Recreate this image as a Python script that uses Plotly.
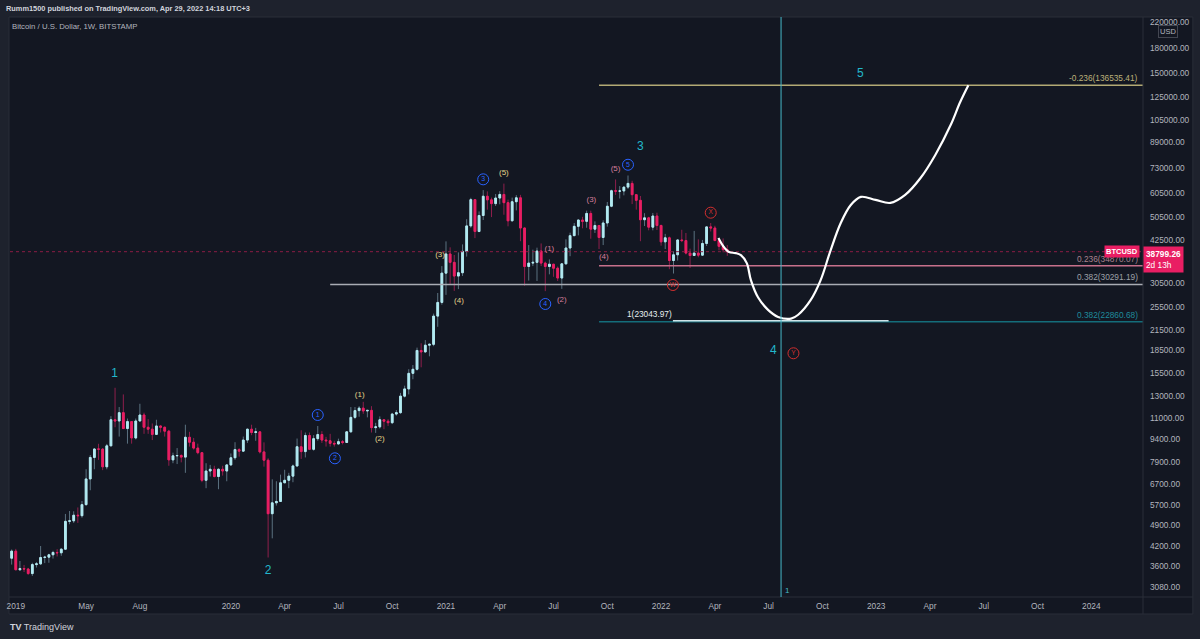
import numpy as np
import pandas as pd
import plotly.graph_objects as go

# ---------------- data (weekly BTC/USD, Bitstamp) ----------------
first_week = "2018-12-31"
week_open = [
    3830,
    4040, 3510, 3540, 3530, 3410, 3650, 3670, 3850, 3860, 3930, 4000, 3990, 4100, 5060, 5080, 5300, 5280, 5740,
    6970, 8200, 8740, 8730, 7640, 8950, 10900, 10800, 11500, 10200, 10750, 9500, 10800, 11300, 10300, 10150,
    9760, 10400, 10300, 10000, 8050, 8300, 8320, 8220, 9550, 9200, 8800, 8500, 6900, 7400, 7500, 7100, 7500, 7400,
    7750, 8180, 8700, 8600, 9350, 10150, 9900, 9950, 8550, 8030, 5360, 5820, 5880, 6770, 6900, 7120, 7690,
    8890, 8570, 9680, 8720, 9450, 9750, 9350, 9300, 9120, 9080, 9240, 9180, 9950, 11100, 11680, 11900, 11650,
    11700, 10270, 10330, 10900, 10780, 10660, 11380, 11500, 13030, 13760, 15480, 15960, 18400, 18200, 19150,
    19270, 23850, 26450,
    33000, 38150, 35800, 32280, 33100, 38900, 47150, 57500, 45200, 51000, 59000, 57400, 55800, 58200, 59800,
    56200, 49000, 56600, 58300, 46400, 34700, 35600, 35800, 39000, 35600, 34700, 35300, 34250, 31800, 35400,
    39900, 43800, 47000, 49300, 48800, 51800, 46000, 47300, 43200, 48200, 54700, 61500, 61300, 61400, 63200,
    65000, 59700, 57200, 49400, 50100, 46700, 50800,
    47300, 41800, 43100, 36300, 37900, 42400, 42200, 38400, 37700, 38400, 37800, 41300, 46800, 46400, 42200,
    40400, 39400,
]
week_high = [
    4090,
    4110, 3750, 3640, 3560, 3700, 3720, 4200, 3900, 3960, 4050, 4100, 4130, 5350, 5470, 5460, 5620, 5900, 7500,
    8350, 8800, 9090, 8800, 9080, 11200, 13880, 12000, 13200, 11000, 10750, 11000, 12300, 11500, 10950, 10600,
    10900, 10450, 10350, 10100, 8500, 8800, 8400, 10500, 9950, 9500, 9100, 8520, 7850, 7750, 7700, 7550, 7700, 7800,
    8450, 9200, 8800, 9600, 10200, 10500, 10250, 9970, 9190, 8150, 6950, 6850, 7200, 7470, 7300, 7770, 9460,
    10070, 9900, 9900, 9700, 10400, 10000, 9580, 9800, 9300, 9450, 9350, 9970, 12000, 12000, 12080, 12480,
    11720, 12080, 10650, 11180, 10950, 10950, 11480, 11730, 13350, 14100, 15970, 16480, 18800, 19420, 19900,
    19400, 24300, 28400, 34800,
    41950, 40100, 37850, 38600, 41000, 49600, 58300, 57600, 52600, 61800, 61200, 58400, 60000, 61300, 64900,
    57500, 58400, 59500, 59600, 46600, 40800, 39400, 40000, 41300, 36000, 36600, 35400, 34700, 35500, 42600,
    44800, 48200, 49400, 50500, 52900, 52900, 48800, 47400, 49200, 56500, 62000, 67000, 63700, 63400, 69000,
    66300, 59900, 59100, 51900, 50500, 52000, 52100,
    47600, 44400, 43500, 38900, 42600, 45800, 44700, 39700, 45400, 42600, 42400, 47000, 48200, 47200, 42400,
    42900, 40800,
]
week_low = [
    3650,
    3500, 3480, 3450, 3380, 3350, 3570, 3640, 3690, 3700, 3820, 3880, 3900, 4090, 4950, 5000, 5000, 5200, 5700,
    6400, 7500, 8050, 7450, 7500, 8950, 10300, 9600, 11000, 9100, 9100, 9400, 10800, 9800, 9800, 9350,
    9730, 9900, 9600, 7700, 7850, 7800, 7900, 7300, 8900, 8700, 8400, 6800, 6500, 7100, 7050, 6450, 7150, 6850,
    7700, 8050, 8250, 8550, 9150, 9700, 9300, 8450, 7650, 3850, 4450, 5700, 5860, 6760, 6500, 6800, 7650,
    8110, 8200, 8700, 8630, 9300, 9150, 8900, 8900, 8900, 9050, 9050, 9150, 9900, 10950, 11150, 11400,
    11100, 9900, 9870, 10200, 10150, 10400, 10550, 11240, 11400, 12900, 13200, 14800, 15800, 16200, 18100,
    17600, 19000, 22000, 26000,
    28000, 30420, 28850, 29250, 32300, 37400, 46500, 43000, 44950, 49300, 53300, 50400, 54800, 55500, 51300,
    47000, 48800, 53000, 42000, 30000, 31200, 34800, 31100, 34800, 28800, 32700, 32100, 31100, 29300, 35200,
    37500, 43700, 43900, 46300, 46500, 42800, 44700, 39600, 40800, 46900, 54300, 59600, 58000, 59400, 62300,
    55600, 53300, 42000, 47100, 45600, 45600, 45700,
    40600, 39600, 34000, 32900, 36300, 41700, 38000, 34300, 37600, 37200, 37600, 40500, 45200, 42100, 39200,
    38600, 37600,
]
week_close = [
    4040,
    3510, 3540, 3530, 3410, 3650, 3670, 3850, 3860, 3930, 4000, 3990, 4100, 5060, 5080, 5300, 5280, 5740, 6970,
    8200, 8740, 8730, 7640, 8950, 10900, 10800, 11500, 10200, 10750, 9500, 10800, 11300, 10300, 10150, 9760,
    10400, 10300, 10000, 8050, 8300, 8320, 8220, 9550, 9200, 8800, 8500, 6900, 7400, 7500, 7100, 7500, 7400, 7750,
    8180, 8700, 8600, 9350, 10150, 9900, 9950, 8550, 8030, 5360, 5820, 5880, 6770, 6900, 7120, 7690, 8890,
    8570, 9680, 8720, 9450, 9750, 9350, 9300, 9120, 9080, 9240, 9180, 9950, 11100, 11680, 11900, 11650,
    11700, 10270, 10330, 10900, 10780, 10660, 11380, 11500, 13030, 13760, 15480, 15960, 18400, 18200, 19150,
    19270, 23850, 26450, 33000,
    38150, 35800, 32280, 33100, 38900, 47150, 57500, 45200, 51000, 59000, 57400, 55800, 58200, 59800, 56200,
    49000, 56600, 58300, 46400, 34700, 35600, 35800, 39000, 35600, 34700, 35300, 34250, 31800, 35400, 39900,
    43800, 47000, 49300, 48800, 51800, 46000, 47300, 43200, 48200, 54700, 61500, 61300, 61400, 63200, 65000,
    59700, 57200, 49400, 50100, 46700, 50800, 47300,
    41800, 43100, 36300, 37900, 42400, 42200, 38400, 37700, 38400, 37800, 41300, 46800, 46400, 42200, 40400,
    39400, 38799.26,
]

# projected path (white curve)
proj_dates = ["2022-04-10", "2022-04-18", "2022-04-28", "2022-05-09", "2022-05-18", "2022-05-28",
              "2022-06-04", "2022-06-16", "2022-07-03", "2022-07-20", "2022-08-11", "2022-08-23",
              "2022-09-13", "2022-09-30", "2022-10-17", "2022-11-03", "2022-11-20", "2022-12-07",
              "2023-01-01", "2023-01-26", "2023-02-20", "2023-03-18", "2023-04-12", "2023-05-08",
              "2023-05-24", "2023-06-07"]
proj_prices = [43000, 40500, 38700, 38400, 37800, 35600, 31300, 27500, 25000, 23700, 23400, 24100,
               26900, 31300, 39300, 48200, 55200, 58700, 57400, 56100, 59600, 67700, 80600, 101000,
               120000, 136500]

# fibonacci levels
fib_prices = [136535.41, 34870.07, 30291.19, 22860.68]
fib_labels = ["-0.236(136535.41)", "0.236(34870.07)", "0.382(30291.19)", "0.382(22860.68)"]
fib_starts = ["2021-09-20", "2021-09-20", "2020-06-22", "2021-09-20"]
ext_price = 23043.97
ext_label = "1(23043.97)"
ext_start, ext_end, ext_label_date = "2022-01-23", "2023-01-23", "2021-12-14"

last_price = 38799.26
cycle_date = "2022-07-25"

# wave labels
wave_text = ["1", "2", "3", "4", "5"]
wave_dates = ["2019-06-23", "2020-03-09", "2021-11-29", "2022-07-12", "2022-12-06"]
wave_prices = [15400, 3485, 85770, 18370, 148500]

minor_text = ["1", "2", "3", "4", "5"]
minor_dates = ["2020-06-01", "2020-06-30", "2021-03-08", "2021-06-21", "2021-11-08"]
minor_prices = [11300, 8147, 67030, 26140, 74840]

suby_text = ["(1)", "(2)", "(3)", "(4)", "(5)"]
suby_dates = ["2020-08-11", "2020-09-14", "2020-12-25", "2021-01-26", "2021-04-12"]
suby_prices = [13140, 9405, 37840, 26730, 70150]

subp_text = ["(1)", "(2)", "(3)", "(4)", "(5)"]
subp_dates = ["2021-06-28", "2021-07-19", "2021-09-07", "2021-09-28", "2021-10-18"]
subp_prices = [39590, 26880, 57210, 37350, 72290]

wxy_text = ["W", "X", "Y"]
wxy_dates = ["2022-01-23", "2022-03-28", "2022-08-15"]
wxy_prices = [30170, 52100, 18010]

x_tick_dates = ["2019-01-07", "2019-05-06", "2019-08-05", "2020-01-06", "2020-04-06", "2020-07-06",
                "2020-10-05", "2021-01-04", "2021-04-05", "2021-07-05", "2021-10-04", "2022-01-03",
                "2022-04-04", "2022-07-04", "2022-10-03", "2023-01-02", "2023-04-03", "2023-07-03",
                "2023-10-02", "2024-01-01"]
x_tick_text = ["2019", "May", "Aug", "2020", "Apr", "Jul", "Oct", "2021", "Apr", "Jul", "Oct", "2022",
               "Apr", "Jul", "Oct", "2023", "Apr", "Jul", "Oct", "2024"]
price_ticks = [3080, 3600, 4200, 4900, 5700, 6700, 7900, 9400, 11000, 13000, 15500, 18500, 21500,
               25500, 30500, 42500, 50500, 60500, 73000, 89000, 105000, 125000, 150000, 180000, 220000]

x_range = ["2018-12-28 05:00", "2024-03-28 12:00"]
y_range = [2857, 228500]

# ---------------- styling ----------------
BG = "#131722"
PAPER = "#1e222d"
BORDER = "#2a2e39"
TXT = "#b2b5be"
UP = "#b2ebf2"
DOWN = "#e91e63"
UP_WICK = "#5b7280"
DOWN_WICK = "#8e1f4c"
CYAN = "#22b8cc"
FONT = "Liberation Sans"

n = len(week_close)
assert len(week_open) == len(week_high) == len(week_low) == n
weeks = pd.date_range(first_week, periods=n, freq="7D")
body_hi = np.maximum(week_open, week_close)
body_lo = np.minimum(week_open, week_close)

fig = go.Figure()

# wicks
fig.add_trace(go.Candlestick(
    x=weeks, open=week_open, high=week_high, low=week_low, close=week_close,
    increasing=dict(line=dict(color=UP_WICK, width=1), fillcolor=UP_WICK),
    decreasing=dict(line=dict(color=DOWN_WICK, width=1), fillcolor=DOWN_WICK),
    hoverinfo="skip"))
# bodies
fig.add_trace(go.Candlestick(
    x=weeks, open=week_open, high=body_hi, low=body_lo, close=week_close,
    increasing=dict(line=dict(color=UP, width=1), fillcolor=UP),
    decreasing=dict(line=dict(color=DOWN, width=1), fillcolor=DOWN),
    hoverinfo="skip"))

x_end = x_range[1]
# current price dotted line
fig.add_trace(go.Scatter(x=[x_range[0], x_end], y=[last_price, last_price], mode="lines",
                         line=dict(color="#8b1d44", width=1, dash="dot"), hoverinfo="skip"))

fib_colors = ["#b3aa74", "#c7708b", "#a9acb4", "#146d7a"]
fib_label_colors = ["#bdb27a", "#a9838f", "#9ea1a8", "#1f8b9b"]
for p, s, c in zip(fib_prices, fib_starts, fib_colors):
    fig.add_trace(go.Scatter(x=[s, x_end], y=[p, p], mode="lines", line=dict(color=c, width=1.5),
                             hoverinfo="skip"))
fig.add_trace(go.Scatter(x=[ext_start, ext_end], y=[ext_price, ext_price], mode="lines",
                         line=dict(color="#cfe3e8", width=1.5), hoverinfo="skip"))

# projection curve
fig.add_trace(go.Scatter(x=proj_dates, y=proj_prices, mode="lines",
                         line=dict(color="#ffffff", width=2.2, shape="spline", smoothing=1.0),
                         hoverinfo="skip"))

# wave labels
fig.add_trace(go.Scatter(x=wave_dates, y=wave_prices, mode="text", text=wave_text,
                         textfont=dict(family=FONT, size=12, color=CYAN), hoverinfo="skip"))
fig.add_trace(go.Scatter(x=minor_dates, y=minor_prices, mode="markers+text", text=minor_text,
                         textposition="middle center",
                         marker=dict(symbol="circle-open", size=11, color="#2962ff", line=dict(width=1)),
                         textfont=dict(family=FONT, size=7, color="#2962ff"), hoverinfo="skip"))
fig.add_trace(go.Scatter(x=suby_dates, y=suby_prices, mode="text", text=suby_text,
                         textfont=dict(family=FONT, size=8, color="#e3d48a"), hoverinfo="skip"))
fig.add_trace(go.Scatter(x=subp_dates, y=subp_prices, mode="text", text=subp_text,
                         textfont=dict(family=FONT, size=8, color="#d67f9c"), hoverinfo="skip"))
fig.add_trace(go.Scatter(x=wxy_dates, y=wxy_prices, mode="markers+text", text=wxy_text,
                         textposition="middle center",
                         marker=dict(symbol="circle-open", size=11, color="#d32f2f", line=dict(width=1)),
                         textfont=dict(family=FONT, size=6.5, color="#d32f2f"), hoverinfo="skip"))

# panel frame and separators
fig.add_shape(type="rect", xref="paper", yref="paper", x0=-0.0009, x1=1.0440, y0=-0.0293, y1=1.0,
              fillcolor=BG, line=dict(color=BORDER, width=1), layer="below")
fig.add_shape(type="line", xref="paper", yref="paper", x0=-0.0009, x1=1.0440, y0=0, y1=0,
              line=dict(color=BORDER, width=1))
fig.add_shape(type="line", xref="paper", yref="paper", x0=1, x1=1, y0=-0.0293, y1=1.0,
              line=dict(color=BORDER, width=1))
# vertical cycle line
fig.add_shape(type="line", xref="x", yref="paper", x0=cycle_date, x1=cycle_date, y0=0, y1=1,
              line=dict(color="#45b8c9", width=1))
fig.add_annotation(xref="x", yref="paper", x=cycle_date, y=0, xshift=6, yanchor="bottom", yshift=0,
                   text="1", showarrow=False, font=dict(family=FONT, size=8, color="#45b8c9"))

# fib labels
for p, t, c in zip(fib_prices, fib_labels, fib_label_colors):
    fig.add_annotation(xref="paper", x=1, xanchor="right", xshift=-3, yref="y", y=np.log10(p),
                       yanchor="bottom", text=t, showarrow=False, font=dict(family=FONT, size=8.3, color=c))
fig.add_annotation(xref="x", x=ext_label_date, xanchor="center", yref="y", y=np.log10(ext_price),
                   yanchor="bottom", text=ext_label, showarrow=False,
                   font=dict(family=FONT, size=8.3, color="#e6eef0"))

# current price labels
fig.add_annotation(xref="paper", x=1, xanchor="right", xshift=-3, yref="y", y=np.log10(last_price),
                   yanchor="middle", text="<b>BTCUSD</b>", showarrow=False, bgcolor=DOWN, borderpad=1,
                   font=dict(family=FONT, size=7.5, color="#ffffff"))
fig.add_annotation(xref="paper", x=1, xanchor="left", xshift=0, yref="y", y=np.log10(last_price),
                   yanchor="top", yshift=6, align="left", text="<b>38799.26</b><br>2d 13h",
                   showarrow=False, bgcolor=DOWN, borderpad=2,
                   font=dict(family=FONT, size=8.3, color="#ffffff"))
# USD badge
fig.add_annotation(xref="paper", x=1.0225, xanchor="center", yref="paper", y=0.9745, yanchor="middle",
                   text="USD", showarrow=False,
                   bgcolor=BG, bordercolor="#434651", borderwidth=1, borderpad=1,
                   font=dict(family=FONT, size=7.5, color=TXT))

# header texts
fig.add_annotation(xref="paper", yref="paper", x=-0.0053, y=1.0138, xanchor="left", yanchor="middle",
                   text="<b>Rumm1500 published on TradingView.com, Apr 29, 2022 14:18 UTC+3</b>",
                   showarrow=False, font=dict(family=FONT, size=7.4, color="#d1d4dc"))
fig.add_annotation(xref="paper", yref="paper", x=0.0, y=0.984, xanchor="left", yanchor="middle",
                   text="Bitcoin / U.S. Dollar, 1W, BITSTAMP", showarrow=False,
                   font=dict(family=FONT, size=7.8, color=TXT))
fig.add_annotation(xref="paper", yref="paper", x=-0.0018, y=-0.0517, xanchor="left", yanchor="middle",
                   text="<b>TV</b> TradingView", showarrow=False,
                   font=dict(family=FONT, size=9, color="#d1d4dc"))

fig.update_layout(
    width=1200, height=639,
    margin=dict(l=7, r=57, t=17, b=42),
    paper_bgcolor=PAPER, plot_bgcolor=BG,
    showlegend=False, hovermode=False,
    boxgap=0.4,
    font=dict(family=FONT, size=8.3, color=TXT),
    xaxis=dict(type="date", range=x_range, showgrid=False, zeroline=False, rangeslider=dict(visible=False),
               tickvals=x_tick_dates, ticktext=x_tick_text, ticks="", ticklabelstandoff=3,
               tickfont=dict(family=FONT, size=8.3, color=TXT), showline=False, fixedrange=True),
    yaxis=dict(type="log", range=[np.log10(y_range[0]), np.log10(y_range[1])], side="right",
               showgrid=False, zeroline=False, tickvals=price_ticks,
               ticktext=[f"{v:.2f}" for v in price_ticks], ticks="", ticklabelstandoff=6,
               tickfont=dict(family=FONT, size=8.3, color=TXT), showline=False, fixedrange=True),
)

fig.write_html("out.html")
